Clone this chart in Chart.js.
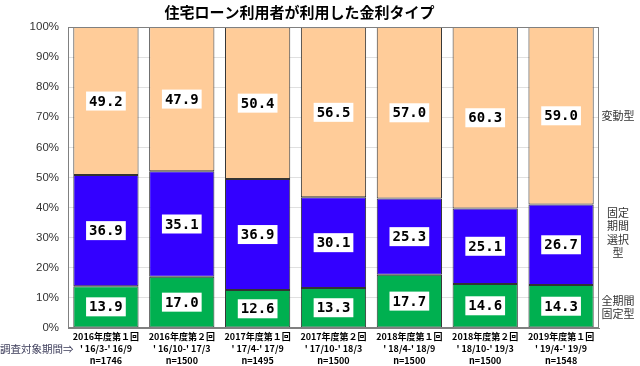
<!DOCTYPE html>
<html>
<head>
<meta charset="utf-8">
<script src="https://cdn.jsdelivr.net/npm/chart.js@4"></script>
<style>
  html, body { margin: 0; padding: 0; background: #fff; }
  #wrap { width: 640px; height: 366px; }
</style>
</head>
<body>
<div id="wrap"><canvas id="rateChart"></canvas></div>
<script>
const surveyRounds = ["2016年度第１回", "2016年度第２回", "2017年度第１回", "2017年度第２回", "2018年度第１回", "2018年度第２回", "2019年度第１回"];
const surveyPeriods = ["' 16/3-' 16/9", "' 16/10-' 17/3", "' 17/4-' 17/9", "' 17/10-' 18/3", "' 18/4-' 18/9", "' 18/10-' 19/3", "' 19/4-' 19/9"];
const sampleSizes = ["n=1746", "n=1500", "n=1495", "n=1500", "n=1500", "n=1500", "n=1548"];

const fullFixed = [13.9, 17.0, 12.6, 13.3, 17.7, 14.6, 14.3];
const periodFixed = [36.9, 35.1, 36.9, 30.1, 25.3, 25.1, 26.7];
const variable = [49.2, 47.9, 50.4, 56.5, 57.0, 60.3, 59.0];

const seriesNames = [["全期間", "固定型"], ["固定", "期間", "選択", "型"], ["変動型"]];

const labels = surveyRounds.map((r, i) => [r, surveyPeriods[i], sampleSizes[i]]);

const ctx = document.getElementById("rateChart").getContext("2d");

// value boxes in each segment + series names on the right + survey period note
const overlayText = {
  id: "overlayText",
  afterDatasetsDraw(chart) {
    const c = chart.ctx;
    const area = chart.chartArea;
    c.save();
    c.font = "bold 14px 'DejaVu Sans Mono'";
    c.textAlign = "center";
    c.textBaseline = "middle";
    chart.data.datasets.forEach((ds, di) => {
      chart.getDatasetMeta(di).data.forEach((bar, i) => {
        const txt = ds.data[i].toFixed(1);
        const w = c.measureText(txt).width + 6;
        const y = (bar.y + bar.base) / 2;
        c.fillStyle = "#fff";
        c.fillRect(bar.x - w / 2, y - 9.5, w, 19);
        c.fillStyle = "#000";
        c.fillText(txt, bar.x, y + 1);
      });
    });

    // series names beside the last bar
    c.font = "11px 'Noto Sans CJK JP'";
    c.fillStyle = "#333";
    const lineH = 13.5;
    const shift = [1, -12, 0];
    seriesNames.forEach((lines, di) => {
      const meta = chart.getDatasetMeta(di).data;
      const bar = meta[meta.length - 1];
      const mid = (bar.y + bar.base) / 2 + shift[di];
      const top = mid - (lines.length - 1) * lineH / 2;
      lines.forEach((t, k) => c.fillText(t, area.right + 19, top + k * lineH));
    });

    // survey period note
    c.font = "10.5px 'Noto Sans CJK JP'";
    c.fillStyle = "#3c3c5a";
    c.textAlign = "left";
    c.fillText("調査対象期間⇒", 0, area.bottom + 21);
    c.restore();
  }
};

new Chart(ctx, {
  type: "bar",
  data: {
    labels,
    datasets: [
      { label: "全期間固定型", data: fullFixed, backgroundColor: "#00b050" },
      { label: "固定期間選択型", data: periodFixed, backgroundColor: "#3300ff" },
      { label: "変動型", data: variable, backgroundColor: "#ffcc99" }
    ].map(d => Object.assign(d, {
      borderColor: "#333",
      borderWidth: 1,
      borderSkipped: false,
      barPercentage: 0.86,
      categoryPercentage: 1
    }))
  },
  options: {
    responsive: true,
    maintainAspectRatio: false,
    animation: false,
    layout: { padding: { top: 0, right: 41, left: 0, bottom: 0 } },
    plugins: {
      legend: { display: false },
      tooltip: { enabled: false },
      title: {
        display: true,
        text: "住宅ローン利用者が利用した金利タイプ",
        color: "#000",
        font: { family: "'Noto Sans CJK JP'", size: 15, weight: "bold" },
        padding: { top: 3, bottom: 6 }
      }
    },
    scales: {
      x: {
        stacked: true,
        grid: { display: false, drawTicks: false },
        border: { display: true, color: "#808080" },
        ticks: {
          color: "#000",
          font: { family: "'Noto Sans CJK JP'", size: 9, weight: "bold", lineHeight: 1.3 },
          padding: 3,
          maxRotation: 0,
          autoSkip: false
        },
        afterFit(scale) { scale.height = 38; }
      },
      y: {
        stacked: true,
        min: 0,
        max: 100,
        grid: { color: "#e0e0e0", drawTicks: false },
        border: { display: true, color: "#808080" },
        ticks: {
          stepSize: 10,
          color: "#333",
          padding: 9,
          font: { family: "'Liberation Sans'", size: 11.5 },
          callback: v => v + "%"
        },
        afterFit(scale) { scale.width = 68; }
      }
    }
  },
  plugins: [overlayText, {
    id: "frame",
    afterDatasetsDraw(chart) {
      const a = chart.chartArea;
      const c = chart.ctx;
      c.save();
      c.strokeStyle = "#808080";
      c.lineWidth = 1;
      c.strokeRect(a.left + 0.5, a.top + 0.5, a.right - a.left - 1, a.bottom - a.top - 1);
      c.restore();
    }
  }]
});
</script>
</body>
</html>
